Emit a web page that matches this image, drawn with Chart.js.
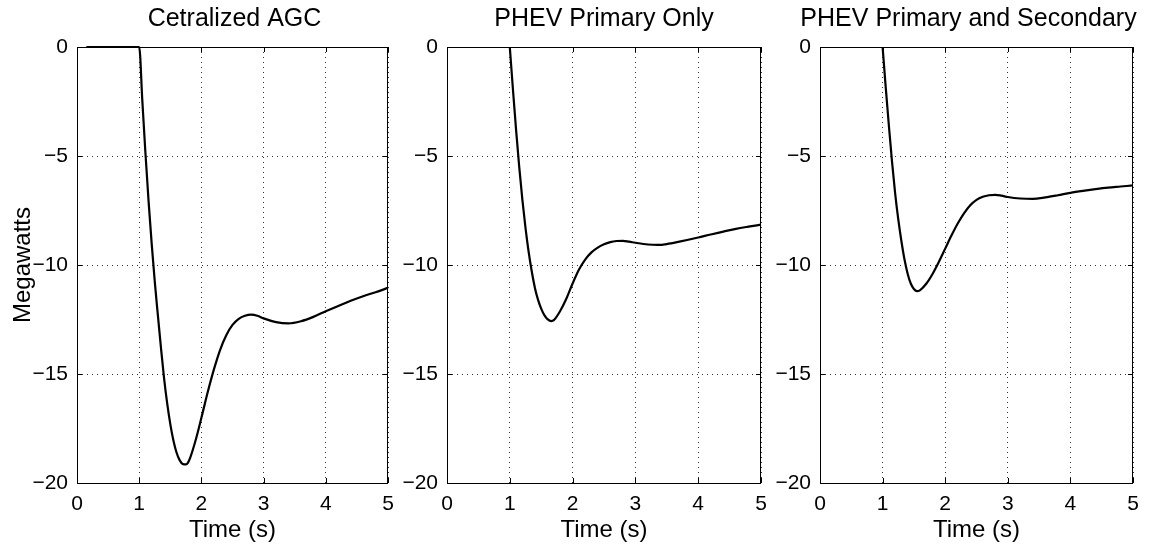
<!DOCTYPE html>
<html>
<head>
<meta charset="utf-8">
<script src="https://cdn.jsdelivr.net/npm/chart.js@4.4.1/dist/chart.umd.min.js"></script>
<style>
  html, body { margin: 0; padding: 0; background: #fff; }
  #wrap { position: relative; width: 1153px; height: 547px; }
  #wrap canvas { position: absolute; left: 0; top: 0; }
</style>
</head>
<body>
<div id="wrap">
  <canvas id="c1" width="1153" height="547"></canvas>
  <canvas id="c2" width="1153" height="547"></canvas>
  <canvas id="c3" width="1153" height="547"></canvas>
</div>
<script>
// panel titles
const titles = ['Cetralized AGC', 'PHEV Primary Only', 'PHEV Primary and Secondary'];

// Cetralized AGC
const timeAgc = [0.15, 1.0, 1.05, 1.1, 1.15, 1.2, 1.25, 1.3, 1.35, 1.4, 1.45, 1.5, 1.55, 1.6, 1.65, 1.7, 1.75, 1.8, 1.9, 2.0, 2.1, 2.2, 2.3, 2.4, 2.5, 2.6, 2.7, 2.8, 2.9, 3.0, 3.2, 3.4, 3.6, 3.8, 4.0, 4.2, 4.4, 4.6, 4.8, 5.0];
const mwAgc = [0, 0, -2.45, -4.85, -7.05, -9.0, -10.75, -12.3, -13.8, -15.2, -16.35, -17.3, -18.05, -18.6, -18.95, -19.13, -19.15, -18.98, -18.11, -17.01, -15.85, -14.8, -13.9, -13.22, -12.75, -12.47, -12.33, -12.28, -12.33, -12.45, -12.62, -12.68, -12.58, -12.38, -12.12, -11.88, -11.64, -11.43, -11.25, -11.05];

// PHEV primary only
const timePrim = [1.0, 1.05, 1.1, 1.15, 1.2, 1.25, 1.3, 1.35, 1.4, 1.45, 1.5, 1.55, 1.6, 1.66, 1.7, 1.8, 1.9, 2.0, 2.1, 2.2, 2.3, 2.4, 2.5, 2.6, 2.7, 2.8, 2.9, 3.0, 3.2, 3.35, 3.5, 3.7, 4.0, 4.2, 4.4, 4.6, 4.8, 5.0];
const mwPrim = [0, -1.95, -3.8, -5.5, -7.0, -8.3, -9.4, -10.3, -11.05, -11.6, -12.0, -12.3, -12.48, -12.57, -12.53, -12.12, -11.55, -10.85, -10.22, -9.75, -9.42, -9.2, -9.05, -8.95, -8.9, -8.89, -8.93, -8.98, -9.06, -9.08, -9.04, -8.93, -8.74, -8.6, -8.47, -8.34, -8.24, -8.15];

// PHEV primary and secondary
const timeSec = [1.0, 1.05, 1.1, 1.15, 1.2, 1.25, 1.3, 1.35, 1.4, 1.45, 1.5, 1.55, 1.6, 1.7, 1.8, 1.9, 2.0, 2.1, 2.2, 2.3, 2.4, 2.5, 2.6, 2.7, 2.8, 2.9, 3.0, 3.2, 3.4, 3.6, 3.8, 4.0, 4.2, 4.4, 4.6, 4.8, 5.0];
const mwSec = [0, -1.85, -3.6, -5.25, -6.7, -7.9, -8.9, -9.75, -10.4, -10.85, -11.1, -11.2, -11.15, -10.85, -10.4, -9.85, -9.25, -8.65, -8.1, -7.63, -7.26, -7.01, -6.87, -6.8, -6.78, -6.82, -6.88, -6.95, -6.97, -6.9, -6.8, -6.69, -6.6, -6.52, -6.45, -6.4, -6.35];

const xTicks = [0, 1, 2, 3, 4, 5];
const yTicks = [-20, -15, -10, -5, 0];

const FONT = '"Liberation Sans", Arial, Helvetica, sans-serif';

// title over the axes, not squeezed to the plot width
const axesTitle = {
  id: 'axesTitle',
  afterDraw(chart, args, opts) {
    const { ctx, chartArea: a } = chart;
    ctx.save();
    ctx.fillStyle = '#000';
    ctx.font = '25px ' + FONT;
    ctx.textAlign = 'center';
    ctx.textBaseline = 'middle';
    ctx.fillText(opts.text, (a.left + a.right) / 2 + (opts.shift || 0), 19);
    ctx.restore();
  }
};

// matlab style box with inward tick marks
const boxTicks = {
  id: 'boxTicks',
  afterDatasetsDraw(chart) {
    const { ctx, chartArea: a, scales: { x, y } } = chart;
    const len = 5;
    ctx.save();
    ctx.strokeStyle = '#000';
    ctx.lineWidth = 1;
    ctx.beginPath();
    x.ticks.forEach(t => {
      const px = Math.round(x.getPixelForValue(t.value)) + 0.5;
      ctx.moveTo(px, a.bottom); ctx.lineTo(px, a.bottom - len);
      ctx.moveTo(px, a.top); ctx.lineTo(px, a.top + len);
    });
    y.ticks.forEach(t => {
      const py = Math.round(y.getPixelForValue(t.value)) + 0.5;
      ctx.moveTo(a.left, py); ctx.lineTo(a.left + len, py);
      ctx.moveTo(a.right, py); ctx.lineTo(a.right - len, py);
    });
    ctx.stroke();
    ctx.strokeRect(Math.round(a.left) + 0.5, Math.round(a.top) + 0.5,
      Math.round(a.right - a.left) - 1, Math.round(a.bottom - a.top));
    ctx.restore();
  }
};

function makePanel(id, title, times, values, plotLeft, plotRight, withYTitle, titleShift) {
  const yW = withYTitle ? plotLeft : 60;
  const points = times.map((t, i) => ({ x: t, y: values[i] }));
  return new Chart(document.getElementById(id), {
    type: 'line',
    data: {
      datasets: [{
        data: points,
        borderColor: '#000',
        borderWidth: 2.2,
        pointRadius: 0,
        cubicInterpolationMode: 'monotone',
        clip: 4,
        fill: false
      }]
    },
    options: {
      responsive: false,
      animation: false,
      layout: { padding: { left: plotLeft - yW, right: 1153 - plotRight, top: 47, bottom: 0 } },
      plugins: {
        legend: { display: false },
        tooltip: { enabled: false },
        title: { display: false },
        axesTitle: { text: title, shift: titleShift }
      },
      scales: {
        x: {
          type: 'linear',
          min: 0, max: 5,
          afterFit: s => { s.height = 64; },
          afterBuildTicks: s => { s.ticks = xTicks.map(v => ({ value: v })); },
          ticks: { color: '#000', padding: 9, font: { family: FONT, size: 21 } },
          grid: { color: '#333', lineWidth: 1, drawTicks: false },
          border: { display: false, dash: [1, 4] },
          title: {
            display: true, text: 'Time (s)', color: '#000',
            font: { family: FONT, size: 24 },
            padding: { top: 0, bottom: 2 }
          }
        },
        y: {
          min: -20, max: 0,
          afterFit: s => { s.width = yW; },
          afterBuildTicks: s => { s.ticks = yTicks.map(v => ({ value: v })); },
          ticks: {
            color: '#000', padding: 9, font: { family: FONT, size: 21 },
            callback: v => v < 0 ? '\u2212' + (-v) : String(v)
          },
          grid: { color: '#333', lineWidth: 1, drawTicks: false },
          border: { display: false, dash: [1, 4] },
          title: {
            display: withYTitle, text: 'Megawatts', color: '#000',
            font: { family: FONT, size: 24 },
            padding: { top: 9, bottom: 0 }
          }
        }
      }
    },
    plugins: [boxTicks, axesTitle]
  });
}

makePanel('c1', titles[0], timeAgc, mwAgc, 77, 388, true, 2);
makePanel('c2', titles[1], timePrim, mwPrim, 447, 761, false, 0);
makePanel('c3', titles[2], timeSec, mwSec, 820, 1133, false, -8);
</script>
</body>
</html>
